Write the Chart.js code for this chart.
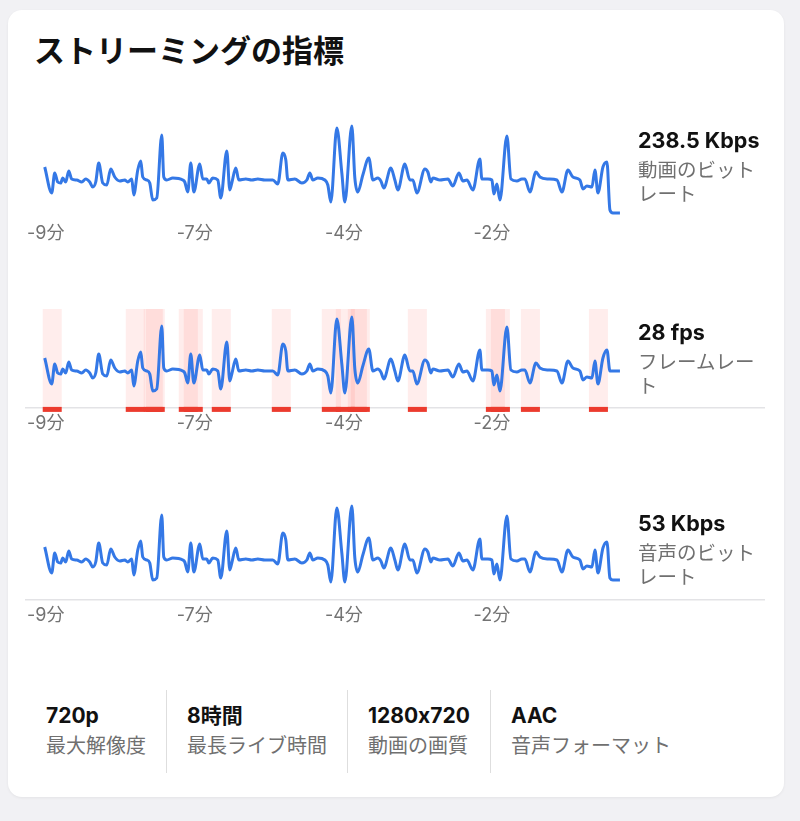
<!DOCTYPE html>
<html lang="ja">
<head>
<meta charset="utf-8">
<script src="https://cdn.jsdelivr.net/npm/chart.js@4.4.1/dist/chart.umd.min.js"></script>
<style>
  html, body { margin: 0; padding: 0; }
  body {
    width: 800px; height: 821px; overflow: hidden; position: relative;
    background: #f1f1f4;
    font-family: Inter, "Noto Sans CJK JP", sans-serif;
    font-feature-settings: "calt" 0;
  }
  .card {
    position: absolute; left: 8px; top: 10px; width: 776px; height: 787px;
    background: #fff; border-radius: 14px; box-shadow: 0 1px 3px rgba(0,0,0,0.06);
  }
  .title {
    position: absolute; left: 34px; top: 35px; margin: 0;
    font-size: 31px; line-height: 32px; font-weight: 700; color: #111;
  }
  .chart { position: absolute; left: 22px; width: 743px; }
  .side { position: absolute; left: 638px; width: 126px; }
  .side .val { font-size: 21.5px; line-height: 24px; font-weight: 700; color: #111; }
  .side .lbl { margin-top: 6px; font-size: 19.5px; line-height: 24px; color: #707070; }
  .stats { position: absolute; left: 26px; top: 690px; height: 83px; display: flex; }
  .stat { padding: 14px 20px 0 20px; border-left: 1px solid #dedede; }
  .stat:first-child { border-left: none; }
  .stat .val { font-size: 21px; line-height: 24px; font-weight: 700; color: #111; }
  .stat .lbl { margin-top: 6px; font-size: 20px; line-height: 24px; color: #707070; white-space: nowrap; }
</style>
</head>
<body>
<div class="card"></div>
<h1 class="title">ストリーミングの指標</h1>

<div class="chart" style="top:112px;height:137px"><canvas id="bitrate"></canvas></div>
<div class="chart" style="top:309px;height:130px"><canvas id="fps"></canvas></div>
<div class="chart" style="top:500px;height:131px"><canvas id="audio"></canvas></div>

<div class="side" style="top:128px"><div class="val">238.5 Kbps</div><div class="lbl">動画のビットレート</div></div>
<div class="side" style="top:320px"><div class="val">28 fps</div><div class="lbl">フレームレート</div></div>
<div class="side" style="top:511px"><div class="val">53 Kbps</div><div class="lbl">音声のビットレート</div></div>

<div class="stats">
  <div class="stat"><div class="val">720p</div><div class="lbl">最大解像度</div></div>
  <div class="stat"><div class="val">8時間</div><div class="lbl">最長ライブ時間</div></div>
  <div class="stat"><div class="val">1280x720</div><div class="lbl">動画の画質</div></div>
  <div class="stat"><div class="val">AAC</div><div class="lbl">音声フォーマット</div></div>
</div>

<script>
// 経過時間（秒、現在 = 0）
const timeSec = [-575,-568,-565,-562,-559,-557,-554,-551,-548,-543,-538,-534,-530,-527,-524,-521,-517,-513,-509,-505,
  -500,-495,-492,-488,-486,-482,-479,-477,-473,-470,-467,-463,-458,-456,-453,-447,-437,-435,-432,-429,
  -426,-420,-417,-413,-411,-407,-402,-399,-393,-390,-388,-384,-381,-374,-368,-362,-355,-347,-342,-337,
  -334,-332,-325,-318,-313,-310,-307,-302,-295,-292,-289,-283,-278,-275,-268,-265,-262,-257,-251,-247,
  -242,-239,-236,-229,-225,-222,-215,-210,-207,-203,-195,-192,-189,-187,-180,-172,-167,-161,-157,-153,
  -147,-140,-138,-132,-128,-126,-123,-120,-113,-109,-103,-98,-95,-90,-84,-80,-72,-63,-58,-52,
  -47,-40,-37,-33,-28,-25,-22,-17,-13,-10,-7,0];

// 動画のビットレート (Kbps)
const videoKbps = [330.5,278.5,318.5,300.5,298.5,308.5,300.5,322.5,306.5,304.5,300.5,306.5,300.5,290.5,300.5,338.5,298.5,294.5,326.5,310.5,
  302.5,304.5,300.5,306.5,274.5,324.5,342.5,310.5,304.5,298.5,264.5,268.5,394.5,310.5,304.5,308.5,304.5,300.5,280.5,338.5,
  280.5,336.5,306.5,306.5,298.5,308.5,304.5,268.5,362.5,284.5,298.5,328.5,304.5,306.5,304.5,306.5,304.5,304.5,296.5,358.5,
  344.5,304.5,306.5,298.5,304.5,318.5,304.5,308.5,304.5,294.5,260.5,408.5,318.5,260.5,412.5,308.5,280.5,314.5,348.5,304.5,
  308.5,302.5,288.5,328.5,304.5,284.5,336.5,304.5,304.5,278.5,326.5,320.5,300.5,308.5,304.5,306.5,292.5,318.5,302.5,304.5,
  284.5,346.5,306.5,306.5,304.5,276.5,296.5,264.5,392.5,306.5,302.5,306.5,306.5,280.5,320.5,310.5,306.5,304.5,280.5,324.5,
  310.5,304.5,286.5,292.5,290.5,324.5,278.5,330.5,340.5,244.5,238.5,238.5];

// フレームレート (fps)
const frameRate = [29.3,26.7,28.7,27.8,27.7,28.2,27.8,28.9,28.1,28,27.8,28.1,27.8,27.3,27.8,29.7,27.7,27.5,29.1,28.3,
  27.9,28,27.8,28.1,26.5,29,29.9,28.3,28,27.7,26,26.2,32.5,28.3,28,28.2,28,27.8,26.8,29.7,
  26.8,29.6,28.1,28.1,27.7,28.2,28,26.2,30.9,27,27.7,29.2,28,28.1,28,28.1,28,28,27.6,30.7,
  30,28,28.1,27.7,28,28.7,28,28.2,28,27.5,25.8,33.2,28.7,25.8,33.4,28.2,26.8,28.5,30.2,28,
  28.2,27.9,27.2,29.2,28,27,29.6,28,28,26.7,29.1,28.8,27.8,28.2,28,28.1,27.4,28.7,27.9,28,
  27,30.1,28.1,28.1,28,26.6,27.6,26,32.4,28.1,27.9,28.1,28.1,26.8,28.8,28.3,28.1,28,26.8,29,
  28.3,28,27.1,27.4,27.3,29,26.7,29.3,30.1,28,28,28];

// 音声のビットレート (Kbps)
const audioKbps = [69.5,56.5,66.5,62,61.5,64,62,67.5,63.5,63,62,63.5,62,59.5,62,71.5,61.5,60.5,68.5,64.5,
  62.5,63,62,63.5,55.5,68,72.5,64.5,63,61.5,53,54,85.5,64.5,63,64,63,62,57,71.5,
  57,71,63.5,63.5,61.5,64,63,54,77.5,58,61.5,69,63,63.5,63,63.5,63,63,61,76.5,
  73,63,63.5,61.5,63,66.5,63,64,63,60.5,52,89,66.5,52,90,64,57,65.5,74,63,
  64,62.5,59,69,63,58,71,63,63,56.5,68.5,67,62,64,63,63.5,60,66.5,62.5,63,
  58,73.5,63.5,63.5,63,56,61,53,85,63.5,62.5,63.5,63.5,57,67,64.5,63.5,63,57,68,
  64.5,63,58.5,60,59.5,68,56.5,69,72,54,53,53];

// フレーム落ちの開始時刻（秒）と長さ
const dropStarts = [-577,-494,-476,-474,-441,-436,-408,-348,-298,-284,-272,-269,-212,-134,-129,-99,-31];
const dropLength = 19;

// 目盛り
const tickSeconds = [-574, -425, -276, -128];
const tickLabels = ['-9分', '-7分', '-4分', '-2分'];

const fontFamily = "Inter, 'Noto Sans CJK JP', sans-serif";

const dropPlugin = {
  id: 'drops',
  beforeDatasetsDraw(chart) {
    const { ctx, chartArea, scales: { x } } = chart;
    ctx.save();
    ctx.fillStyle = 'rgba(255, 59, 48, 0.09)';
    dropStarts.forEach(s => {
      const x0 = x.getPixelForValue(s);
      const x1 = x.getPixelForValue(s + dropLength);
      ctx.fillRect(x0, chartArea.top, x1 - x0, chartArea.bottom - chartArea.top);
    });
    ctx.restore();
  },
  afterDraw(chart) {
    const { ctx, chartArea, scales: { x } } = chart;
    ctx.save();
    ctx.fillStyle = '#ec3b2e';
    dropStarts.forEach(s => {
      const x0 = x.getPixelForValue(s);
      const x1 = x.getPixelForValue(s + dropLength);
      ctx.fillRect(x0, chartArea.bottom - 0.5, x1 - x0, 5);
    });
    ctx.restore();
  }
};

const crearGrafico = (id, valores, yMin, yMax, conEje, plugins = []) => {
  const ctx = document.getElementById(id).getContext('2d');
  return new Chart(ctx, {
    type: 'line',
    data: {
      datasets: [{
        data: timeSec.map((t, i) => ({ x: t, y: valores[i] })),
        borderColor: '#3478e6',
        borderWidth: 3,
        pointRadius: 0,
        cubicInterpolationMode: 'monotone',
        fill: false,
      }],
    },
    options: {
      animation: false,
      responsive: true,
      maintainAspectRatio: false,
      layout: { padding: 0 },
      plugins: { legend: { display: false }, tooltip: { enabled: false } },
      scales: {
        x: {
          type: 'linear',
          min: -594,
          max: 145,
          grid: { display: false, drawTicks: false },
          border: { display: conEje, color: '#e3e3e6', width: 1.5 },
          afterBuildTicks: scale => { scale.ticks = tickSeconds.map(v => ({ value: v })); },
          ticks: {
            autoSkip: false,
            maxRotation: 0,
            padding: 5,
            color: '#737373',
            font: { size: 18, family: fontFamily },
            callback: (v, i) => tickLabels[i],
          },
        },
        y: { display: false, min: yMin, max: yMax },
      },
    },
    plugins,
  });
};

crearGrafico('bitrate', videoKbps, 229.7, 440.5, false);
crearGrafico('fps', frameRate, 24.36, 34.2, true, [dropPlugin]);
crearGrafico('audio', audioKbps, 43.3, 93, true);
</script>
</body>
</html>
